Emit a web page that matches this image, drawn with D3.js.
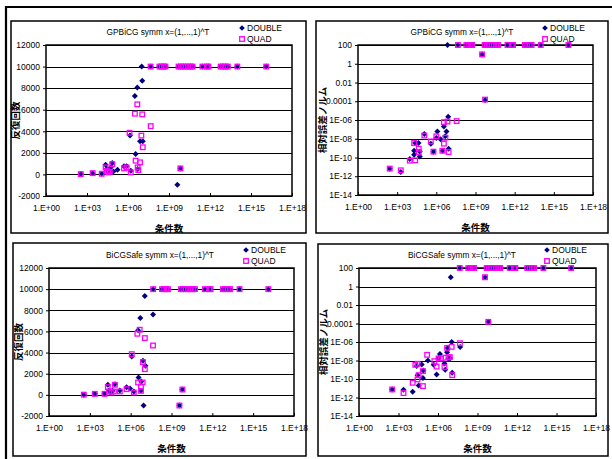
<!DOCTYPE html>
<html>
<head>
<meta charset="utf-8">
<script src="https://cdn.jsdelivr.net/npm/d3@7"></script>
<style>
body { margin: 0; background: #fff; }
text { font-family: "Liberation Sans", Arial, sans-serif; fill: #000; }
.jp { font-family: "Noto Sans CJK JP", sans-serif; }
</style>
</head>
<body>
<script>
// condition numbers of matrices that failed in every run (top row of each chart)
var condFail = [4.5e7, 2.0e8, 2.9e8, 4.2e8, 5.5e8, 5.0e9, 7.5e9, 1.1e10, 1.7e10, 2.6e10, 3.8e10,
                5.3e10, 2.8e11, 6.0e11, 7.5e11, 6.0e12, 9.0e12, 1.4e13, 2.0e13, 1.0e14, 1.3e16];
var maxIter = 10000;   // iteration count plotted for failures
var failErr = 100;     // relative error plotted for failures

// GPBiCG: iterations [cond, iter]
var gpIterD = [[3.5e2,30],[2.6e3,120],[1.2e4,60],[2.3e4,900],[2.8e4,500],[3.6e4,280],[5.4e4,650],
  [7.1e4,1050],[8.5e4,280],[1.7e5,430],[5.1e5,750],[7.9e5,750],[1.4e6,3600],[1.6e6,340],[3.2e6,7280],
  [3.6e6,1900],[4.8e6,8050],[5.1e6,500],[7.6e6,3080],[1.0e7,10000],[1.1e7,8680],[1.2e7,3080],
  [4.1e9,-960],[6.8e9,560]];
var gpIterQ = [[3.5e2,30],[2.6e3,120],[1.2e4,60],[2.3e4,650],[2.8e4,340],[3.6e4,190],[4.7e4,250],
  [7.1e4,960],[5.1e5,560],[7.9e5,650],[1.3e6,3860],[1.6e6,190],[3.2e6,5630],[3.6e6,1275],[4.8e6,6500],
  [5.1e6,650],[5.7e6,400],[7.6e6,1120],[9.5e6,3600],[1.1e7,5570],[1.2e7,2520],[4.6e7,4480],[6.8e9,560]];

// GPBiCG: relative error norm [cond, err]
var gpErrD = [[2.7e2,6.5e-12],[1.9e3,2.8e-12],[9.3e3,6.9e-11],[2.0e4,5.2e-10],[2.0e4,2.0e-10],
  [2.4e4,3.5e-9],[4.3e4,3.5e-9],[5.4e4,1.3e-10],[5.4e4,4.5e-10],[1.2e5,3.2e-8],[3.8e5,3.0e-9],
  [6.0e5,4.2e-10],[1.0e6,1.2e-8],[1.2e6,6.0e-8],[2.1e6,9.1e-9],[3.0e6,5.2e-10],[3.8e6,2.0e-7],
  [4.8e6,1.8e-8],[6.0e6,6.0e-8],[8.1e6,2.2e-6],[8.7e6,8.7e-10],[7.2e6,100],[3.2e9,10],[5.4e9,1.4e-4]];
var gpErrQ = [[2.7e2,6.5e-12],[1.9e3,4.3e-12],[9.3e3,4.6e-11],[2.0e4,3.5e-9],[2.4e4,5.0e-11],
  [4.5e4,8.7e-10],[4.5e4,3.8e-10],[1.2e5,2.2e-8],[3.8e5,5.2e-9],[6.0e5,4.2e-10],[1.0e6,1.8e-8],
  [2.9e6,5.2e-10],[3.8e6,3.0e-9],[3.8e6,5.9e-7],[5.0e6,1.3e-8],[7.2e6,6.9e-7],[8.7e6,3.8e-10],
  [3.6e7,7.6e-7],[3.2e9,10],[5.4e9,1.5e-4]];

// BiCGSafe: iterations
var bsIterD = [[3.6e2,20],[2.3e3,95],[1.2e4,95],[2.1e4,950],[2.6e4,410],[3.5e4,220],[4.7e4,380],
  [6.9e4,1010],[1.6e5,410],[5.0e5,730],[8.9e5,600],[1.2e6,3630],[1.7e6,320],[3.5e6,6100],[3.8e6,1640],
  [5.1e6,7270],[5.7e6,380],[6.0e6,1260],[8.0e6,3220],[8.9e6,-1010],[1.1e7,9350],[1.2e7,2750],
  [4.4e7,7610],[3.8e9,-1010],[6.3e9,505]];
var bsIterQ = [[3.6e2,20],[2.3e3,95],[1.2e4,95],[2.1e4,730],[2.6e4,320],[3.9e4,220],[5.9e4,320],
  [6.9e4,950],[1.6e5,320],[5.0e5,540],[1.2e6,3850],[1.7e6,220],[3.1e6,5780],[4.6e6,6160],[3.5e6,1170],
  [5.7e6,790],[5.7e6,380],[7.6e6,1170],[8.0e6,3100],[1.1e7,5370],[1.1e7,2430],[4.4e7,4670],
  [3.8e9,-1010],[6.3e9,505]];

// BiCGSafe: relative error norm
var bsErrD = [[3.3e2,7.4e-12],[2.4e3,6.8e-12],[1.2e4,4.2e-12],[2.4e4,2.5e-9],[2.8e4,2.6e-10],
  [3.4e4,2.0e-11],[5.8e4,3.7e-9],[7.2e4,1.3e-10],[7.7e4,8.3e-10],[1.7e5,1.0e-8],[4.7e5,3.4e-9],
  [7.9e5,3.1e-10],[1.1e6,1.7e-8],[1.4e6,5.2e-8],[3.1e6,4.8e-9],[3.5e6,1.0e-9],[4.9e6,7.9e-8],
  [5.5e6,2.3e-7],[6.2e6,1.5e-8],[8.3e6,1.8e-8],[9.3e6,10],[1.1e7,1.0e-6],[1.2e7,4.7e-10],
  [4.8e7,2.8e-7],[3.7e9,10],[6.6e9,1.5e-4]];
var bsErrQ = [[3.3e2,7.4e-12],[2.4e3,3.0e-12],[1.2e4,3.9e-11],[1.9e4,3.4e-9],[2.8e4,4.4e-9],
  [2.8e4,8.9e-11],[3.4e4,2.6e-10],[7.2e4,1.7e-11],[7.2e4,7.1e-10],[1.5e5,4.1e-8],[5.3e5,8.5e-9],
  [7.9e5,2.2e-9],[1.1e6,1.7e-8],[1.7e6,1.7e-8],[3.1e6,1.9e-9],[3.7e6,2.0e-8],[4.9e6,2.3e-7],
  [6.2e6,2.3e-8],[7.9e6,2.3e-8],[1.1e7,3.0e-7],[1.2e7,2.6e-10],[4.6e7,7.4e-7],[3.7e9,10],[6.6e9,1.5e-4]];

// axes
var xTicks = [1e0, 1e3, 1e6, 1e9, 1e12, 1e15, 1e18];
var xTickLabels = ["1.E+00", "1.E+03", "1.E+06", "1.E+09", "1.E+12", "1.E+15", "1.E+18"];
var iterTicks = [-2000, 0, 2000, 4000, 6000, 8000, 10000, 12000];
var errTicks = [1e-14, 1e-12, 1e-10, 1e-8, 1e-6, 1e-4, 1e-2, 1, 100];
var errTickLabels = ["1E-14", "1E-12", "1E-10", "1E-08", "1E-06", "0.0001", "0.01", "1", "100"];
var seriesNames = ["DOUBLE", "QUAD"];

var W = 612, H = 459;
var svg = d3.select("body").append("svg").attr("width", W).attr("height", H);

// sheet frame (top and left)
svg.append("line").attr("x1", 5).attr("x2", W).attr("y1", 7).attr("y2", 7)
   .attr("stroke", "#000").attr("stroke-width", 2.2);
svg.append("line").attr("x1", 6).attr("x2", 6).attr("y1", 6).attr("y2", H)
   .attr("stroke", "#000").attr("stroke-width", 2.2);

var panels = [
  {box: [11, 21, 306, 233], plot: [46, 45, 292, 196], titleX: 158, titleY: 35, legX: 242, legY: 28, ytX: 15,
   title: "GPBiCG symm x=(1,...,1)^T", yTitle: "反復回数", kind: "iter", d: gpIterD, q: gpIterQ},
  {box: [316, 21, 608, 233], plot: [358, 45, 593, 195], titleX: 462, titleY: 35, legX: 545, legY: 28, ytX: 322,
   title: "GPBiCG symm x=(1,...,1)^T", yTitle: "相対誤差ノルム", kind: "err", d: gpErrD, q: gpErrQ},
  {box: [13, 243, 306, 456], plot: [49, 268, 294, 416], titleX: 160, titleY: 258, legX: 246, legY: 250, ytX: 18,
   title: "BiCGSafe symm x=(1,...,1)^T", yTitle: "反復回数", kind: "iter", d: bsIterD, q: bsIterQ},
  {box: [318, 244, 608, 456], plot: [359, 268, 596, 416], titleX: 462, titleY: 258, legX: 547, legY: 250, ytX: 323,
   title: "BiCGSafe symm x=(1,...,1)^T", yTitle: "相対誤差ノルム", kind: "err", d: bsErrD, q: bsErrQ}
];

function diamond(r) { return "M0," + (-r) + "L" + r + ",0L0," + r + "L" + (-r) + ",0Z"; }

panels.forEach(function (p) {
  var g = svg.append("g");
  var L = p.plot[0], T = p.plot[1], R = p.plot[2], B = p.plot[3];

  g.append("rect").attr("x", p.box[0]).attr("y", p.box[1])
   .attr("width", p.box[2] - p.box[0]).attr("height", p.box[3] - p.box[1])
   .attr("fill", "#fff").attr("stroke", "#000").attr("stroke-width", 1.5);

  var x = d3.scaleLog().domain([1, 1e18]).range([L, R]);
  var y, yTicks, yLabels;
  if (p.kind === "iter") {
    y = d3.scaleLinear().domain([-2000, 12000]).range([B, T]);
    yTicks = iterTicks;
    yLabels = iterTicks.map(String);
  } else {
    y = d3.scaleLog().domain([1e-14, 100]).range([B, T]);
    yTicks = errTicks;
    yLabels = errTickLabels;
  }

  // gridlines
  g.selectAll(".grid").data(yTicks).enter().append("line")
   .attr("x1", L).attr("x2", R)
   .attr("y1", d => Math.round(y(d)) + 0.5).attr("y2", d => Math.round(y(d)) + 0.5)
   .attr("stroke", "#000").attr("stroke-width", 1);

  // y axis
  var yAxis = d3.axisLeft(y).tickValues(yTicks).tickFormat((d, i) => yLabels[i]).tickSize(3).tickPadding(3);
  var ya = g.append("g").attr("transform", "translate(" + L + ",0)").call(yAxis);
  ya.select(".domain").remove();
  ya.selectAll("text").attr("font-size", 8.5).attr("font-family", "Liberation Sans, Arial, sans-serif");

  // x axis, ticks inside
  var xAxis = d3.axisBottom(x).tickValues(xTicks).tickFormat((d, i) => xTickLabels[i]).tickSizeInner(-3).tickSizeOuter(0).tickPadding(9);
  var xa = g.append("g").attr("transform", "translate(0," + B + ")").call(xAxis);
  xa.select(".domain").remove();
  xa.selectAll("text").attr("font-size", 8.5).attr("font-family", "Liberation Sans, Arial, sans-serif");

  // plot frame
  g.append("rect").attr("x", L).attr("y", T).attr("width", R - L).attr("height", B - T)
   .attr("fill", "none").attr("stroke", "#000").attr("stroke-width", 1.5);

  // titles
  g.append("text").attr("x", p.titleX).attr("y", p.titleY).attr("text-anchor", "middle")
   .attr("font-size", 8.3).text(p.title);
  g.append("text").attr("class", "jp").attr("x", (L + R) / 2).attr("y", B + 36)
   .attr("text-anchor", "middle").attr("font-size", 9.5).attr("font-weight", "bold").text("条件数");
  g.append("text").attr("class", "jp")
   .attr("transform", "translate(" + p.ytX + "," + (T + B) / 2 + ")rotate(-90)")
   .attr("text-anchor", "middle").attr("dominant-baseline", "central")
   .attr("font-size", 9.5).attr("font-weight", "bold").text(p.yTitle);

  // data
  var failY = p.kind === "iter" ? maxIter : failErr;
  var dPts = p.d.concat(condFail.map(c => [c, failY]));
  var qPts = p.q.concat(condFail.map(c => [c, failY]));

  g.selectAll(".dbl").data(dPts).enter().append("path")
   .attr("d", diamond(3))
   .attr("transform", d => "translate(" + x(d[0]) + "," + y(d[1]) + ")")
   .attr("fill", "#000080");

  g.selectAll(".quad").data(qPts).enter().append("rect")
   .attr("x", d => x(d[0]) - 2.3).attr("y", d => y(d[1]) - 2.3)
   .attr("width", 4.6).attr("height", 4.6)
   .attr("fill", "none").attr("stroke", "#ff00ff").attr("stroke-width", 1.3);

  // legend
  g.append("path").attr("d", diamond(2.8))
   .attr("transform", "translate(" + p.legX + "," + p.legY + ")").attr("fill", "#000080");
  g.append("rect").attr("x", p.legX - 2.3).attr("y", p.legY + 11 - 2.3).attr("width", 4.6).attr("height", 4.6)
   .attr("fill", "none").attr("stroke", "#ff00ff").attr("stroke-width", 1.3);
  g.selectAll(".leg").data(seriesNames).enter().append("text")
   .attr("x", p.legX + 5).attr("y", (d, i) => p.legY + i * 11 + 3)
   .attr("font-size", 8.5).text(d => d);
});
</script>
</body>
</html>
